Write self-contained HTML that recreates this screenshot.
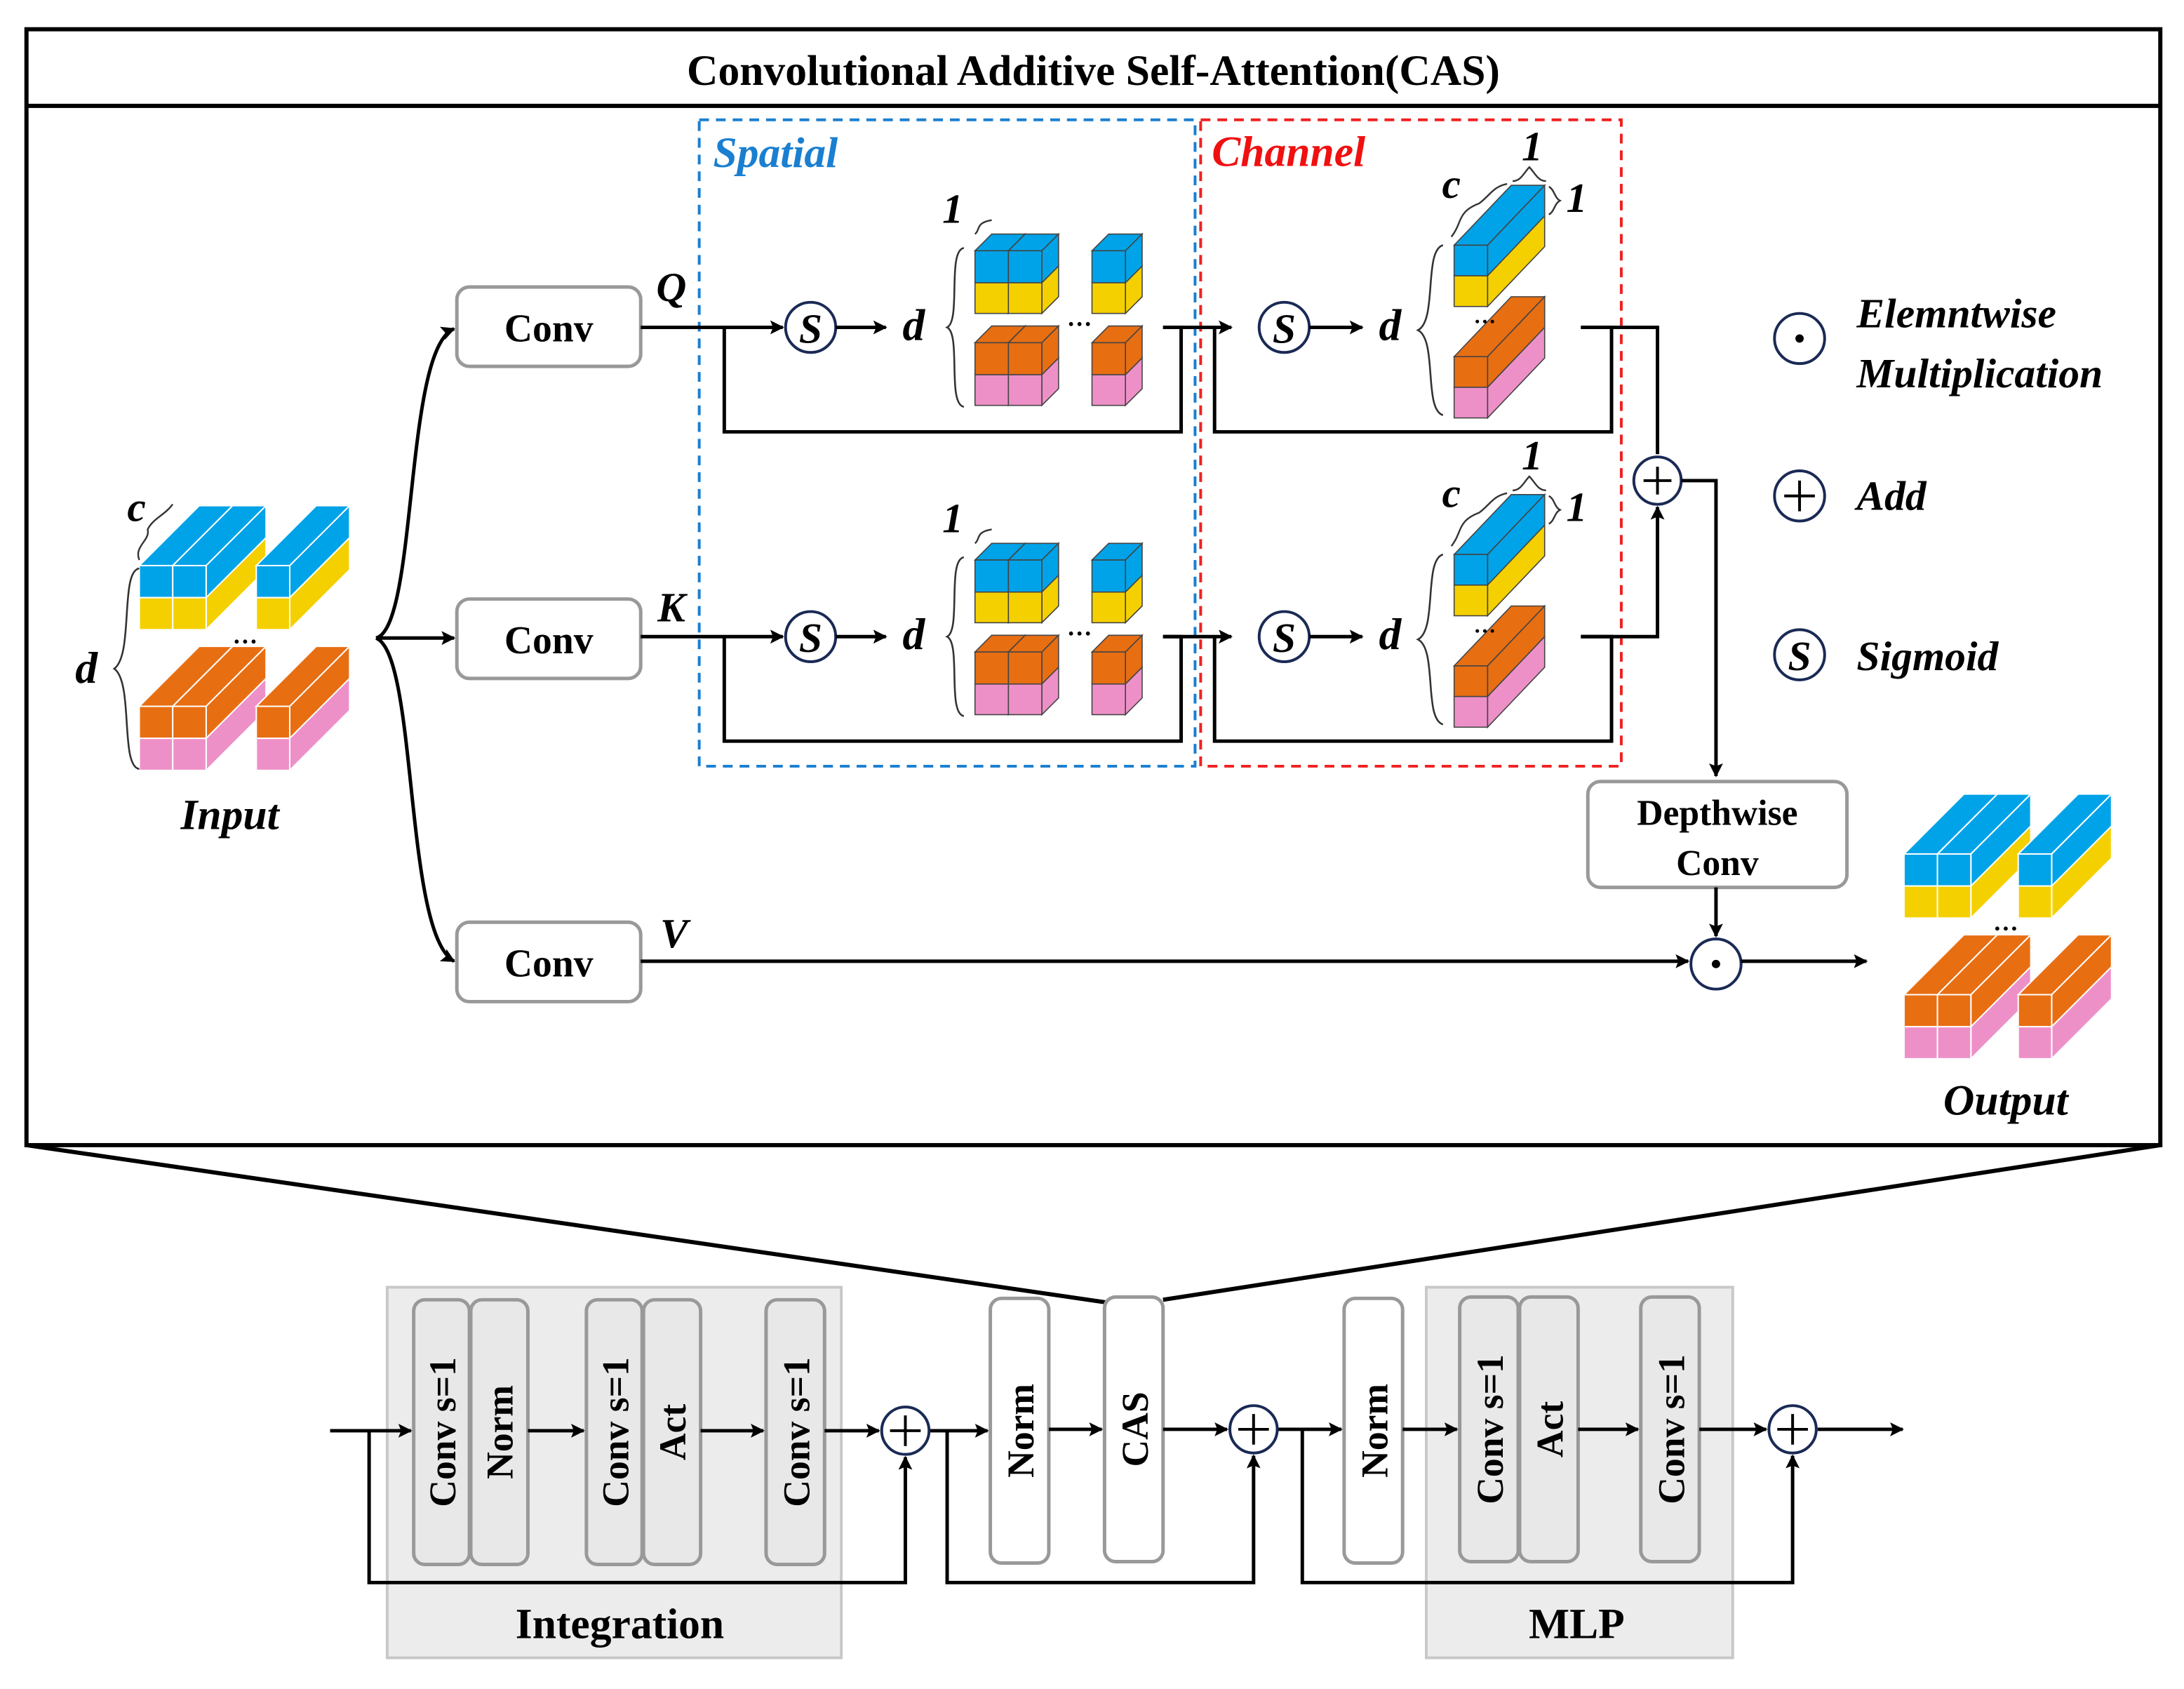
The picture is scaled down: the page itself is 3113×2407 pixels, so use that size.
<!DOCTYPE html>
<html><head><meta charset="utf-8"><style>
html,body{margin:0;padding:0;background:#fff}
svg{display:block}
svg text{font-family:"Liberation Serif","DejaVu Serif",serif;font-weight:bold}
svg .it{font-style:italic}
</style></head><body>
<svg width="3113" height="2407" viewBox="0 0 1568 1212.4" xmlns="http://www.w3.org/2000/svg" font-family="Liberation Serif, serif" font-weight="bold">
<defs>
<marker id="ar" markerWidth="10" markerHeight="10" refX="9" refY="5" orient="auto" markerUnits="userSpaceOnUse"><path d="M0,0 L10,5 L0,10 L2,5 z" fill="#000"/></marker>
<g id="cBY" stroke="#444" stroke-width="0.8">
<polygon points="0,0 12,-12 36,-12 24,0" fill="#00a3e8"/>
<polygon points="24,0 36,-12 36,11 24,23" fill="#00a3e8"/>
<polygon points="24,23 36,11 36,33 24,45" fill="#f5d000"/>
<rect x="0" y="0" width="24" height="23" fill="#00a3e8"/>
<rect x="0" y="23" width="24" height="22" fill="#f5d000"/>
</g>
<g id="cOP" stroke="#444" stroke-width="0.8">
<polygon points="0,0 12,-12 36,-12 24,0" fill="#e86e12"/>
<polygon points="24,0 36,-12 36,11 24,23" fill="#e86e12"/>
<polygon points="24,23 36,11 36,33 24,45" fill="#ee90c8"/>
<rect x="0" y="0" width="24" height="23" fill="#e86e12"/>
<rect x="0" y="23" width="24" height="22" fill="#ee90c8"/>
</g>
<g id="bBY" stroke="#fff" stroke-width="1">
<polygon points="0,0 43,-43 67,-43 24,0" fill="#00a3e8"/>
<polygon points="24,0 67,-43 67,-20 24,23" fill="#00a3e8"/>
<polygon points="24,23 67,-20 67,3 24,46" fill="#f5d000"/>
<rect x="0" y="0" width="24" height="23" fill="#00a3e8"/>
<rect x="0" y="23" width="24" height="23" fill="#f5d000"/>
</g>
<g id="bOP" stroke="#fff" stroke-width="1">
<polygon points="0,0 43,-43 67,-43 24,0" fill="#e86e12"/>
<polygon points="24,0 67,-43 67,-20 24,23" fill="#e86e12"/>
<polygon points="24,23 67,-20 67,3 24,46" fill="#ee90c8"/>
<rect x="0" y="0" width="24" height="23" fill="#e86e12"/>
<rect x="0" y="23" width="24" height="23" fill="#ee90c8"/>
</g>
<g id="chBY" stroke="#444" stroke-width="0.8">
<polygon points="0,0 41,-43 65,-43 24,0" fill="#00a3e8"/>
<polygon points="24,0 65,-43 65,-21 24,22" fill="#00a3e8"/>
<polygon points="24,22 65,-21 65,1 24,44" fill="#f5d000"/>
<rect x="0" y="0" width="24" height="22" fill="#00a3e8"/>
<rect x="0" y="22" width="24" height="22" fill="#f5d000"/>
</g>
<g id="chOP" stroke="#444" stroke-width="0.8">
<polygon points="0,0 41,-43 65,-43 24,0" fill="#e86e12"/>
<polygon points="24,0 65,-43 65,-21 24,22" fill="#e86e12"/>
<polygon points="24,22 65,-21 65,1 24,44" fill="#ee90c8"/>
<rect x="0" y="0" width="24" height="22" fill="#e86e12"/>
<rect x="0" y="22" width="24" height="22" fill="#ee90c8"/>
</g>
<g id="spQ">
<path d="M460,235 H562" stroke="#000" stroke-width="2.5" fill="none" marker-end="url(#ar)"/>
<path d="M520,235 V310 H848 V235 H835" stroke="#000" stroke-width="2.5" fill="none"/>
<circle cx="582" cy="235" r="18" fill="#fff" stroke="#1a2a55" stroke-width="2"/>
<text x="582" y="246" font-size="30" class="it" font-style="italic" text-anchor="middle">S</text>
<path d="M600,235 H636" stroke="#000" stroke-width="2.5" marker-end="url(#ar)"/>
<text x="656" y="244" font-size="32" class="it" font-style="italic" text-anchor="middle">d</text>
<path d="M692,178 C680,180 690,230 680,235 C690,240 680,290 692,292" stroke="#333" stroke-width="1.3" fill="none"/>
<path d="M700,168 C704,165 700,160 712,158" stroke="#333" stroke-width="1.2" fill="none"/>
<text x="684" y="160" font-size="30" class="it" font-style="italic" text-anchor="middle">1</text>
<use href="#cBY" x="700" y="180"/><use href="#cBY" x="724" y="180"/><use href="#cBY" x="784" y="180"/>
<use href="#cOP" x="700" y="246"/><use href="#cOP" x="724" y="246"/><use href="#cOP" x="784" y="246"/>
<text x="775" y="234" font-size="18" text-anchor="middle">…</text>
<path d="M835,235 H884" stroke="#000" stroke-width="2.5" marker-end="url(#ar)"/>
<path d="M872,235 V310 H1157 V235 H1135" stroke="#000" stroke-width="2.5" fill="none"/>
<circle cx="922" cy="235" r="18" fill="#fff" stroke="#1a2a55" stroke-width="2"/>
<text x="922" y="246" font-size="30" class="it" font-style="italic" text-anchor="middle">S</text>
<path d="M940,235 H978" stroke="#000" stroke-width="2.5" marker-end="url(#ar)"/>
<text x="998" y="244" font-size="32" class="it" font-style="italic" text-anchor="middle">d</text>
<path d="M1036,176 C1022,180 1032,230 1018,237 C1032,244 1022,294 1036,298" stroke="#333" stroke-width="1.3" fill="none"/>
<path d="M1042,170 C1050,160 1046,152 1062,146 C1070,140 1072,134 1082,132" stroke="#333" stroke-width="1.2" fill="none"/>
<text x="1042" y="142" font-size="30" class="it" font-style="italic" text-anchor="middle">c</text>
<path d="M1086,130 C1092,130 1094,124 1098,120 C1102,124 1104,130 1110,130" stroke="#333" stroke-width="1.2" fill="none"/>
<text x="1100" y="115" font-size="30" class="it" font-style="italic" text-anchor="middle">1</text>
<path d="M1112,134 C1116,136 1116,142 1120,144 C1116,146 1116,152 1112,154" stroke="#333" stroke-width="1.2" fill="none"/>
<text x="1132" y="152" font-size="30" class="it" font-style="italic" text-anchor="middle">1</text>
<use href="#chBY" x="1044" y="176"/>
<use href="#chOP" x="1044" y="256"/>
<text x="1066" y="232" font-size="16" text-anchor="middle">…</text>
</g>
</defs>

<rect x="19" y="21" width="1532" height="801" fill="none" stroke="#000" stroke-width="3"/>
<line x1="19" y1="76" x2="1551" y2="76" stroke="#000" stroke-width="3"/>
<text x="785" y="61" font-size="31" text-anchor="middle">Convolutional Additive Self-Attention(CAS)</text>

<rect x="502" y="86" width="356" height="464" fill="none" stroke="#1a7fd0" stroke-width="2" stroke-dasharray="7,5"/>
<rect x="862" y="86" width="302" height="464" fill="none" stroke="#f02020" stroke-width="2" stroke-dasharray="7,5"/>
<text x="512" y="120" font-size="31" class="it" font-style="italic" fill="#1a7fd0">Spatial</text>
<text x="870" y="119" font-size="31" class="it" font-style="italic" fill="#f01010">Channel</text>

<use href="#bBY" x="100" y="406"/><use href="#bBY" x="124" y="406"/><use href="#bBY" x="184" y="406"/>
<use href="#bOP" x="100" y="507"/><use href="#bOP" x="124" y="507"/><use href="#bOP" x="184" y="507"/>
<text x="176" y="462" font-size="18" text-anchor="middle">…</text>
<text x="98" y="374" font-size="30" class="it" font-style="italic" text-anchor="middle">c</text>
<path d="M100,402 C96,392 108,388 106,380 C110,372 118,370 124,362" stroke="#333" stroke-width="1.2" fill="none"/>
<path d="M100,408 C86,410 96,470 82,480 C96,490 86,550 100,552" stroke="#333" stroke-width="1.3" fill="none"/>
<text x="62" y="490" font-size="32" class="it" font-style="italic" text-anchor="middle">d</text>
<text x="165" y="595" font-size="31" class="it" font-style="italic" text-anchor="middle">Input</text>

<path d="M270,458 C300,450 290,250 326,236" stroke="#000" stroke-width="2.5" fill="none" marker-end="url(#ar)"/>
<path d="M270,458 H326" stroke="#000" stroke-width="2.5" fill="none" marker-end="url(#ar)"/>
<path d="M270,458 C300,470 290,670 326,690" stroke="#000" stroke-width="2.5" fill="none" marker-end="url(#ar)"/>

<g stroke="#999" stroke-width="2.5" fill="#fff">
<rect x="328" y="206" width="132" height="57" rx="9"/>
<rect x="328" y="430" width="132" height="57" rx="9"/>
<rect x="328" y="662" width="132" height="57" rx="9"/>
</g>
<text x="394" y="245" font-size="28" text-anchor="middle">Conv</text>
<text x="394" y="469" font-size="28" text-anchor="middle">Conv</text>
<text x="394" y="701" font-size="28" text-anchor="middle">Conv</text>
<text x="482" y="216" font-size="30" class="it" font-style="italic" text-anchor="middle">Q</text>
<text x="482" y="446" font-size="30" class="it" font-style="italic" text-anchor="middle">K</text>
<text x="484" y="680" font-size="30" class="it" font-style="italic" text-anchor="middle">V</text>

<use href="#spQ"/>
<use href="#spQ" y="222"/>

<path d="M1135,235 H1190 V326" stroke="#000" stroke-width="2.5" fill="none"/>
<path d="M1135,457 H1190 V364" stroke="#000" stroke-width="2.5" fill="none" marker-end="url(#ar)"/>
<circle cx="1190" cy="345" r="17" fill="#fff" stroke="#1a2a55" stroke-width="2"/>
<path d="M1180,345 H1200 M1190,335 V355" stroke="#000" stroke-width="2"/>
<path d="M1207,345 H1232 V557" stroke="#000" stroke-width="2.5" fill="none" marker-end="url(#ar)"/>
<rect x="1140" y="561" width="186" height="76" rx="9" fill="#fff" stroke="#999" stroke-width="2.5"/>
<text x="1233" y="592" font-size="26" text-anchor="middle">Depthwise</text>
<text x="1233" y="628" font-size="26" text-anchor="middle">Conv</text>
<path d="M1232,637 V672" stroke="#000" stroke-width="2.5" marker-end="url(#ar)"/>
<path d="M460,690 H1212" stroke="#000" stroke-width="2.5" marker-end="url(#ar)"/>
<circle cx="1232" cy="692" r="18" fill="#fff" stroke="#1a2a55" stroke-width="2"/>
<circle cx="1232" cy="692" r="3" fill="#000"/>
<path d="M1250,690 H1340" stroke="#000" stroke-width="2.5" marker-end="url(#ar)"/>

<use href="#bBY" x="1367" y="613"/><use href="#bBY" x="1391" y="613"/><use href="#bBY" x="1449" y="613"/>
<use href="#bOP" x="1367" y="714"/><use href="#bOP" x="1391" y="714"/><use href="#bOP" x="1449" y="714"/>
<text x="1440" y="668" font-size="18" text-anchor="middle">…</text>
<text x="1440" y="800" font-size="31" class="it" font-style="italic" text-anchor="middle">Output</text>

<circle cx="1292" cy="243" r="18" fill="#fff" stroke="#1a2a55" stroke-width="2"/>
<circle cx="1292" cy="243" r="3" fill="#000"/>
<text x="1333" y="235" font-size="30" class="it" font-style="italic">Elemntwise</text>
<text x="1333" y="278" font-size="30" class="it" font-style="italic">Multiplication</text>
<circle cx="1292" cy="356" r="18" fill="#fff" stroke="#1a2a55" stroke-width="2"/>
<path d="M1281,356 H1303 M1292,345 V367" stroke="#000" stroke-width="2"/>
<text x="1333" y="366" font-size="30" class="it" font-style="italic">Add</text>
<circle cx="1292" cy="470" r="18" fill="#fff" stroke="#1a2a55" stroke-width="2"/>
<text x="1292" y="481" font-size="30" class="it" font-style="italic" text-anchor="middle">S</text>
<text x="1333" y="481" font-size="30" class="it" font-style="italic">Sigmoid</text>

<line x1="19" y1="822" x2="795" y2="935" stroke="#000" stroke-width="3"/>
<line x1="1551" y1="822" x2="835" y2="933" stroke="#000" stroke-width="3"/>

<rect x="278" y="924" width="326" height="266" fill="#ececec" stroke="#c8c8c8" stroke-width="2"/>
<rect x="1024" y="924" width="220" height="266" fill="#ececec" stroke="#c8c8c8" stroke-width="2"/>
<text x="445" y="1176" font-size="31" text-anchor="middle">Integration</text>
<text x="1132" y="1176" font-size="31" text-anchor="middle">MLP</text>

<g stroke="#999" stroke-width="2.5">
<rect x="297" y="933" width="40" height="190" rx="8" fill="#e8e8e8"/>
<rect x="338" y="933" width="41" height="190" rx="8" fill="#e8e8e8"/>
<rect x="421" y="933" width="40" height="190" rx="8" fill="#e8e8e8"/>
<rect x="462" y="933" width="41" height="190" rx="8" fill="#e8e8e8"/>
<rect x="550" y="933" width="42" height="190" rx="8" fill="#e8e8e8"/>
<rect x="711" y="932" width="42" height="190" rx="8" fill="#fff"/>
<rect x="793" y="931" width="42" height="190" rx="8" fill="#fff"/>
<rect x="965" y="932" width="42" height="190" rx="8" fill="#fff"/>
<rect x="1048" y="931" width="42" height="190" rx="8" fill="#e8e8e8"/>
<rect x="1091" y="931" width="42" height="190" rx="8" fill="#e8e8e8"/>
<rect x="1178" y="931" width="42" height="190" rx="8" fill="#e8e8e8"/>
</g>
<g font-size="27">
<text transform="translate(327,1028) rotate(-90)" text-anchor="middle">Conv s=1</text>
<text transform="translate(368,1028) rotate(-90)" text-anchor="middle">Norm</text>
<text transform="translate(451,1028) rotate(-90)" text-anchor="middle">Conv s=1</text>
<text transform="translate(492,1028) rotate(-90)" text-anchor="middle">Act</text>
<text transform="translate(581,1028) rotate(-90)" text-anchor="middle">Conv s=1</text>
<text transform="translate(742,1027) rotate(-90)" text-anchor="middle">Norm</text>
<text transform="translate(824,1026) rotate(-90)" text-anchor="middle">CAS</text>
<text transform="translate(996,1027) rotate(-90)" text-anchor="middle">Norm</text>
<text transform="translate(1079,1026) rotate(-90)" text-anchor="middle">Conv s=1</text>
<text transform="translate(1122,1026) rotate(-90)" text-anchor="middle">Act</text>
<text transform="translate(1209,1026) rotate(-90)" text-anchor="middle">Conv s=1</text>
</g>

<g stroke="#000" stroke-width="2.5" fill="none">
<path d="M237,1027 H295" marker-end="url(#ar)"/>
<path d="M379,1027 H419" marker-end="url(#ar)"/>
<path d="M503,1027 H548" marker-end="url(#ar)"/>
<path d="M592,1027 H631" marker-end="url(#ar)"/>
<path d="M667,1027 H709" marker-end="url(#ar)"/>
<path d="M753,1026 H791" marker-end="url(#ar)"/>
<path d="M835,1026 H881" marker-end="url(#ar)"/>
<path d="M917,1026 H963" marker-end="url(#ar)"/>
<path d="M1007,1026 H1046" marker-end="url(#ar)"/>
<path d="M1133,1026 H1176" marker-end="url(#ar)"/>
<path d="M1220,1026 H1268" marker-end="url(#ar)"/>
<path d="M1305,1026 H1366" marker-end="url(#ar)"/>
<path d="M265,1027 V1136 H650 V1046" marker-end="url(#ar)"/>
<path d="M680,1027 V1136 H900 V1045" marker-end="url(#ar)"/>
<path d="M935,1026 V1136 H1287 V1045" marker-end="url(#ar)"/>
</g>
<g fill="#fff" stroke="#1a2a55" stroke-width="2">
<circle cx="650" cy="1027" r="17"/><circle cx="900" cy="1026" r="17"/><circle cx="1287" cy="1026" r="17"/>
</g>
<path d="M639,1027 H661 M650,1016 V1038 M889,1026 H911 M900,1015 V1037 M1276,1026 H1298 M1287,1015 V1037" stroke="#000" stroke-width="2"/>
</svg>
</body></html>
